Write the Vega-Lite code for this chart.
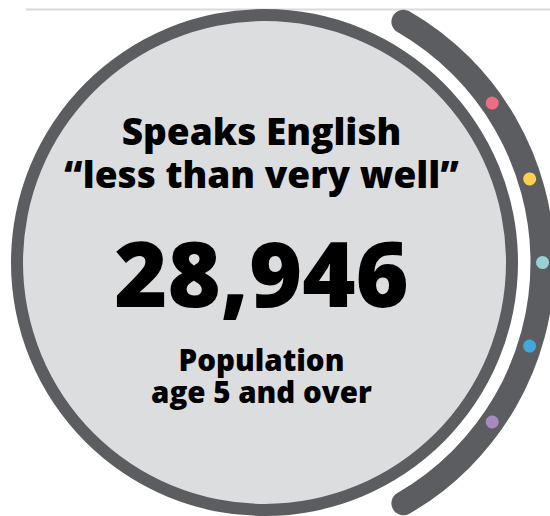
{
  "$schema": "https://vega.github.io/schema/vega-lite/v6.json",
  "autosize": "none",
  "width": 529,
  "height": 507,
  "padding": {"left": 0, "top": 9, "right": 21, "bottom": 0},
  "background": "white",
  "config": {"view": {"stroke": null}},
  "layer": [
    {
      "data": {"values": [{"item": "separator"}]},
      "mark": {"type": "rule", "color": "#dadada", "strokeWidth": 2},
      "encoding": {"y": {"value": 0.5}, "x": {"value": 26}, "x2": {"value": 550}}
    },
    {
      "data": {"values": [{"part": "disc", "start": 0, "end": 360}]},
      "mark": {"type": "arc", "radius": 242, "fill": "#dcdddf"},
      "encoding": {
        "theta": {"field": "start", "type": "quantitative", "scale": {"domain": [0, 360]}},
        "theta2": {"field": "end"}
      }
    },
    {
      "data": {"values": [{"part": "ring", "start": 0, "end": 360}]},
      "mark": {"type": "arc", "radius": 253.5, "radius2": 241.5, "fill": "#5c5d61"},
      "encoding": {
        "theta": {"field": "start", "type": "quantitative", "scale": {"domain": [0, 360]}},
        "theta2": {"field": "end"}
      }
    },
    {
      "data": {"values": [{"part": "outer arc", "start": 27.5, "end": 152.5}]},
      "mark": {"type": "arc", "radius": 290, "radius2": 266, "cornerRadius": 12, "fill": "#5c5d61"},
      "encoding": {
        "theta": {"field": "start", "type": "quantitative", "scale": {"domain": [0, 360]}},
        "theta2": {"field": "end"}
      }
    },
    {
      "data": {"values": [
        {"dot": "1", "angle": 55},
        {"dot": "2", "angle": 72.5},
        {"dot": "3", "angle": 90},
        {"dot": "4", "angle": 107.5},
        {"dot": "5", "angle": 125}
      ]},
      "mark": {"type": "arc", "radius": 284.5, "radius2": 271.5, "cornerRadius": 6.5, "thetaOffset": -0.0234, "theta2Offset": 0.0234},
      "encoding": {
        "theta": {"field": "angle", "type": "quantitative", "scale": {"domain": [0, 360]}},
        "theta2": {"field": "angle"},
        "color": {"field": "dot", "type": "nominal", "legend": null,
          "scale": {"domain": ["1", "2", "3", "4", "5"], "range": ["#ec6f80", "#fcd04f", "#98d1d3", "#3fa9dc", "#a78bc0"]}}
      }
    },
    {
      "data": {"values": [{"text": ["Speaks English", "“less than very well”"]}]},
      "mark": {"type": "text", "font": "Open Sans", "fontWeight": 800, "fontSize": 37, "lineHeight": 43, "align": "center", "baseline": "alphabetic", "dx": -3, "dy": -117.5, "color": "#000000"},
      "encoding": {"text": {"field": "text"}}
    },
    {
      "data": {"values": [{"text": "28,946"}]},
      "mark": {"type": "text", "font": "Open Sans", "fontWeight": 800, "fontSize": 91, "align": "center", "baseline": "alphabetic", "dx": -3, "dy": 44.5, "color": "#000000"},
      "encoding": {"text": {"field": "text"}}
    },
    {
      "data": {"values": [{"text": ["Population", "age 5 and over"]}]},
      "mark": {"type": "text", "font": "Open Sans", "fontWeight": 800, "fontSize": 29.5, "lineHeight": 32.5, "align": "center", "baseline": "alphabetic", "dx": -3, "dy": 108, "color": "#000000"},
      "encoding": {"text": {"field": "text"}}
    }
  ]
}
